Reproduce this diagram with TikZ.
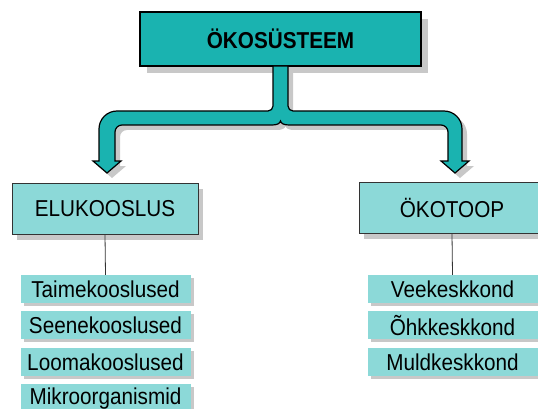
\documentclass[tikz,border=0pt]{standalone}
\usepackage{fontspec}
\setmainfont{Liberation Sans}[FakeStretch=0.9]
\usepackage{xcolor}
\usetikzlibrary{positioning,shadows}

\definecolor{tumetiil}{HTML}{1AB3B0}
\definecolor{heletiil}{HTML}{8CD9D8}
\definecolor{varjuhall}{HTML}{C8C8C8}

% kahe haruga nool (ylemisest kastist alla)
\newcommand{\harunool}{(273,-66) -- (273,-106) arc[start angle=0, end angle=-90, radius=5]
  -- (117,-111) arc[start angle=90, end angle=180, radius=18]
  -- (99,-161) -- (93,-161) -- (107,-173) -- (121,-161) -- (115,-161)
  -- (115,-132) arc[start angle=180, end angle=90, radius=7]
  -- (272,-125) .. controls (277,-125) and (280,-123.5) .. (280.5,-121)
  .. controls (281,-123.5) and (284,-125) .. (289,-125)
  -- (441,-125) arc[start angle=90, end angle=0, radius=7]
  -- (448,-161) -- (441,-161) -- (455,-173) -- (469,-161) -- (462,-161)
  -- (462,-129) arc[start angle=0, end angle=90, radius=18]
  -- (293,-111) arc[start angle=-90, end angle=-180, radius=5]
  -- (288,-66) -- cycle}

\begin{document}
\begin{tikzpicture}[
  x=1pt, y=1pt,
  pealkiri/.style={rectangle, draw=black, line width=1.2pt, fill=tumetiil,
               minimum width=281pt, minimum height=54pt, inner sep=0pt,
               font=\fontsize{23}{26}\selectfont\bfseries,
               drop shadow={shadow xshift=7pt, shadow yshift=-7pt, fill=varjuhall, opacity=1}},
  kast/.style={rectangle, draw=black!80, line width=1pt, fill=heletiil,
               minimum width=186pt, minimum height=51pt, inner sep=0pt,
               font=\fontsize{23}{26}\selectfont,
               drop shadow={shadow xshift=5pt, shadow yshift=-6pt, fill=varjuhall, opacity=1}},
  osa/.style={rectangle, fill=heletiil, minimum width=170pt,
               minimum height=28pt, inner sep=0pt,
               font=\fontsize{23}{26}\selectfont,
               drop shadow={shadow xshift=3pt, shadow yshift=-3pt, fill=varjuhall, opacity=1}},
  nool/.style={draw=black, line width=1.2pt, fill=tumetiil},
  vari/.style={fill=varjuhall},
  joon/.style={draw=black!80, line width=0.8pt}
]
\useasboundingbox (0,0) rectangle (538,-409);

\fill[vari, xshift=5pt, yshift=-5pt] \harunool;
\node[pealkiri] (okosysteem) at (280.5,-39) {ÖKOSÜSTEEM};
\path[nool] \harunool;

\node[kast] (elukooslus) at (105,-208.5) {ELUKOOSLUS};
\node[kast] (okotoop) at (452,-207.5) {ÖKOTOOP};

\node[osa] (taime) at (105.5,-289) {Taimekooslused};
\node[osa, below=8pt of taime] (seene) {Seenekooslused};
\node[osa, below=8pt of seene] (looma) {Loomakooslused};
\node[osa, below=8pt of looma] (mikro) {Mikroorganismid};

\node[osa] (vee) at (452.5,-289) {Veekeskkond};
\node[osa, below=8pt of vee] (ohk) {Õhkkeskkond};
\node[osa, below=8pt of ohk] (muld) {Muldkeskkond};

\draw[joon] (elukooslus.south) -- (taime.north);
\draw[joon] (okotoop.south) -- (vee.north);
\end{tikzpicture}
\end{document}
